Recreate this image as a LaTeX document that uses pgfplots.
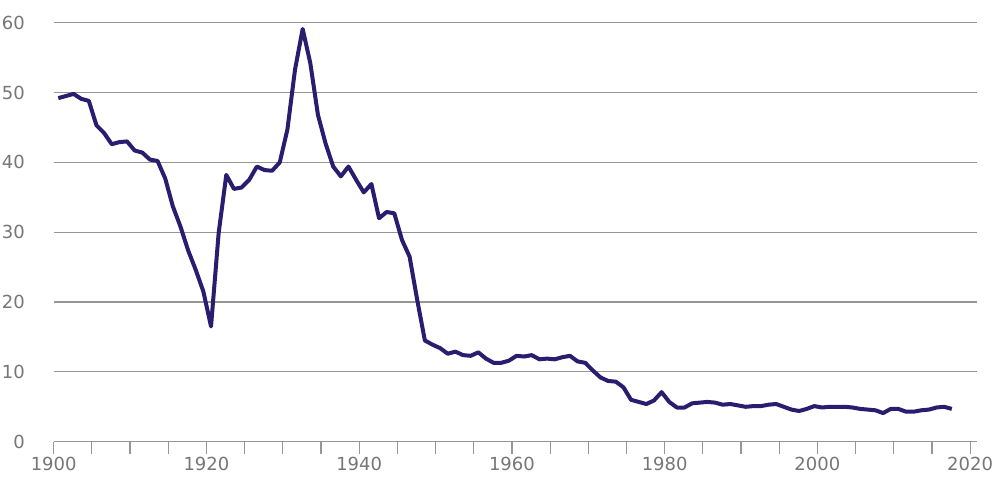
\documentclass[border=0pt]{standalone}
\usepackage{pgfplots}
\pgfplotsset{compat=1.18}
\usepackage{fontspec}
\setmainfont{DejaVu Sans}
\definecolor{lineblue}{RGB}{42,28,110}
\definecolor{gridgray}{RGB}{150,150,150}
\definecolor{labgray}{RGB}{118,118,118}
\begin{document}
\begin{tikzpicture}[x=1pt,y=1pt]
\begin{axis}[
  scale only axis,
  width=461.6pt, height=209.5pt,
  xmin=1900, xmax=2020.9,
  ymin=0, ymax=60,
  axis line style={draw=none},
  xtick={1900,1920,...,2020},
  minor xtick={1905,1910,...,2015},
  ytick={0,10,...,60},
  xtick pos=lower, ytick pos=left,
  ymajorgrids,
  major grid style={draw=gridgray, line width=0.6pt},
  tick align=outside,
  major tick length=5.9pt,
  minor tick length=5.9pt,
  x tick style={draw=gridgray, line width=0.6pt},
  y tick style={draw=none},
  tick label style={font=\fontsize{9}{10}\selectfont, text=labgray},
  /pgf/number format/assume math mode=true,
  xticklabel style={/pgf/number format/1000 sep={}, yshift=1.5pt},
  yticklabel style={xshift=-5pt},
  clip=false,
  x filter/.code={\pgfmathparse{\pgfmathresult+0.6}},
]
\addplot[lineblue, line width=2pt, line join=round] table {
x y
1900 49.2
1901 49.5
1902 49.8
1903 49.1
1904 48.8
1905 45.3
1906 44.2
1907 42.6
1908 42.9
1909 43.0
1910 41.7
1911 41.4
1912 40.4
1913 40.2
1914 37.7
1915 33.7
1916 30.8
1917 27.4
1918 24.6
1919 21.5
1920 16.5
1921 29.9
1922 38.2
1923 36.2
1924 36.4
1925 37.5
1926 39.4
1927 38.9
1928 38.8
1929 40.0
1930 44.7
1931 53.3
1932 59.1
1933 54.2
1934 46.8
1935 42.7
1936 39.4
1937 38.0
1938 39.4
1939 37.5
1940 35.7
1941 36.9
1942 32.0
1943 32.9
1944 32.7
1945 28.9
1946 26.5
1947 20.3
1948 14.5
1949 13.9
1950 13.4
1951 12.6
1952 12.9
1953 12.4
1954 12.3
1955 12.8
1956 11.9
1957 11.3
1958 11.3
1959 11.6
1960 12.3
1961 12.2
1962 12.4
1963 11.8
1964 11.9
1965 11.8
1966 12.1
1967 12.3
1968 11.5
1969 11.3
1970 10.2
1971 9.2
1972 8.7
1973 8.6
1974 7.8
1975 6.0
1976 5.7
1977 5.4
1978 5.9
1979 7.1
1980 5.7
1981 4.9
1982 4.9
1983 5.5
1984 5.6
1985 5.7
1986 5.6
1987 5.3
1988 5.4
1989 5.2
1990 5.0
1991 5.1
1992 5.1
1993 5.3
1994 5.4
1995 5.0
1996 4.6
1997 4.4
1998 4.7
1999 5.1
2000 4.9
2001 5.0
2002 5.0
2003 5.0
2004 4.9
2005 4.7
2006 4.6
2007 4.5
2008 4.1
2009 4.7
2010 4.7
2011 4.3
2012 4.3
2013 4.5
2014 4.6
2015 4.9
2016 5.0
2017 4.7
};
\end{axis}
\pgfresetboundingbox
\path (current axis.south west) ++(-26.85pt,-17.15pt) coordinate (bbsw);
\path (current axis.north east) ++(11.5pt,11.35pt) coordinate (bbne);
\path[use as bounding box] (bbsw) rectangle (bbne);
\end{tikzpicture}
\end{document}
